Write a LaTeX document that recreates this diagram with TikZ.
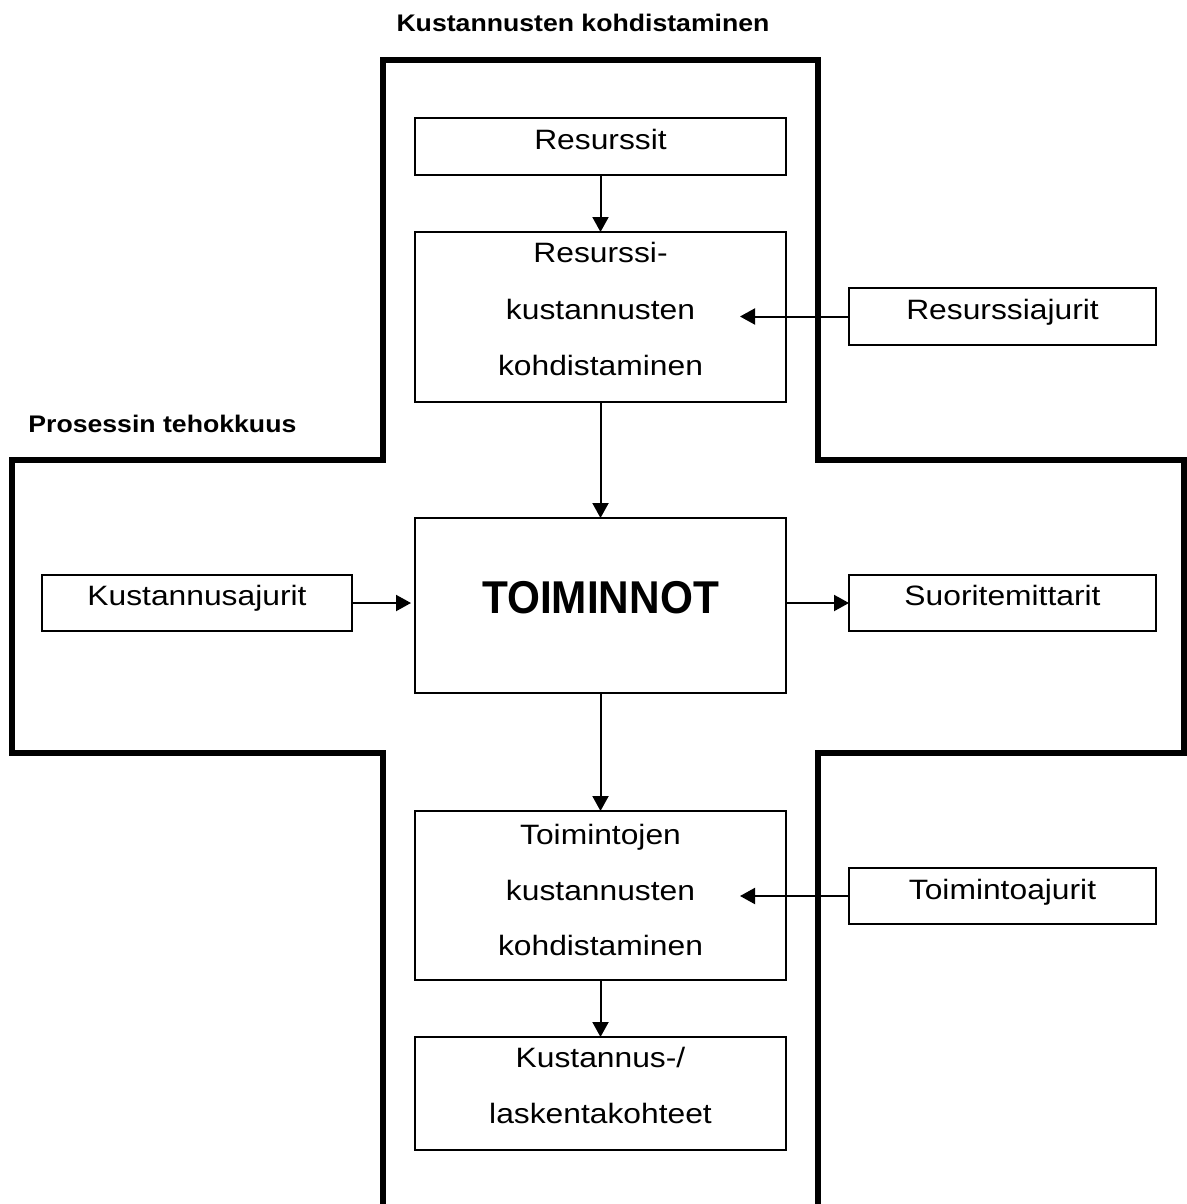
\documentclass[tikz,border=0pt]{standalone}
\usepackage{fontspec}
\setmainfont{Liberation Sans}[FakeStretch=1.135]
\newfontfamily\headfont{Liberation Sans}[FakeStretch=1.11]
\newfontfamily\mainlabelfont{Liberation Sans}[FakeStretch=0.92]
\usetikzlibrary{arrows.meta}

\tikzset{
  frame/.style={line width=3pt, line join=miter},
  box/.style={draw, line width=1pt, inner sep=0pt, outer sep=0pt, minimum width=185.5pt},
  sidebox/.style={draw, line width=1pt, inner sep=0pt, outer sep=0pt, minimum width=153.5pt, minimum height=28pt},
  txt/.style={anchor=base, inner sep=0pt, font=\fontsize{14pt}{28pt}\selectfont},
  head/.style={anchor=base, inner sep=0pt, font=\headfont\fontsize{12pt}{14pt}\selectfont\bfseries},
  arr/.style={line width=1pt, -{Triangle[length=7.5pt,width=8pt]}}
}

\begin{document}
\begin{tikzpicture}[x=0.5pt, y=-0.5pt]
  \useasboundingbox (0,0) rectangle (1187,1204);

  % cross-shaped frame
  \draw[frame] (383,1215) -- (383,753) -- (12,753) -- (12,460) -- (383,460)
    -- (383,60) -- (818,60) -- (818,460) -- (1184,460) -- (1184,753)
    -- (818,753) -- (818,1215);

  % headings
  \node[head] (hcost) at (583,32) {Kustannusten kohdistaminen};
  \node[head, anchor=base west] (hproc) at (28,432) {Prosessin tehokkuus};

  % central column
  \node[box, minimum height=28.5pt] (res) at (600.5,146.5) {};
  \node[txt] (res1) at (600.5,149) {Resurssit};

  \node[box, minimum height=85pt] (rkk) at (600.5,317) {};
  \node[txt] (rkk1) at (600.5,262) {Resurssi-};
  \node[txt] (rkk2) at (600.5,319) {kustannusten};
  \node[txt] (rkk3) at (600.5,375) {kohdistaminen};

  \node[box, minimum height=87.5pt] (toim) at (600.5,605.5) {};
  \node[anchor=base, inner sep=0pt, font=\mainlabelfont\fontsize{23pt}{28pt}\selectfont\bfseries] (toim1) at (600.5,613) {TOIMINNOT};

  \node[box, minimum height=84.5pt] (tkk) at (600.5,895.5) {};
  \node[txt] (tkk1) at (600.5,844) {Toimintojen};
  \node[txt] (tkk2) at (600.5,900) {kustannusten};
  \node[txt] (tkk3) at (600.5,955) {kohdistaminen};

  \node[box, minimum height=56.5pt] (kl) at (600.5,1093.5) {};
  \node[txt] (kl1) at (600.5,1067) {Kustannus-/};
  \node[txt] (kl2) at (600.5,1123) {laskentakohteet};

  % side boxes
  \node[sidebox, minimum height=28.5pt] (ra) at (1002.5,316.5) {};
  \node[txt] (ra1) at (1002.5,319) {Resurssiajurit};

  \node[sidebox, minimum width=155pt] (ka) at (197,603) {};
  \node[txt] (ka1) at (197,605) {Kustannusajurit};

  \node[sidebox] (sm) at (1002.5,603) {};
  \node[txt] (sm1) at (1002.5,605) {Suoritemittarit};

  \node[sidebox] (ta) at (1002.5,896) {};
  \node[txt] (ta1) at (1002.5,899) {Toimintoajurit};

  % arrow ends inside the allocation boxes
  \coordinate (rkkin) at (740,316.5);
  \coordinate (tkkin) at (740,896);

  % connectors
  \draw[arr] (res.south) -- (rkk.north);
  \draw[arr] (rkk.south) -- (toim.north);
  \draw[arr] (toim.south) -- (tkk.north);
  \draw[arr] (tkk.south) -- (kl.north);
  \draw[arr] (ra.west) -- (rkkin);
  \draw[arr] (ta.west) -- (tkkin);
  \draw[arr, shorten >=2pt] (ka.east) -- (ka.east -| toim.west);
  \draw[arr] (toim.east |- sm.west) -- (sm.west);
\end{tikzpicture}
\end{document}
